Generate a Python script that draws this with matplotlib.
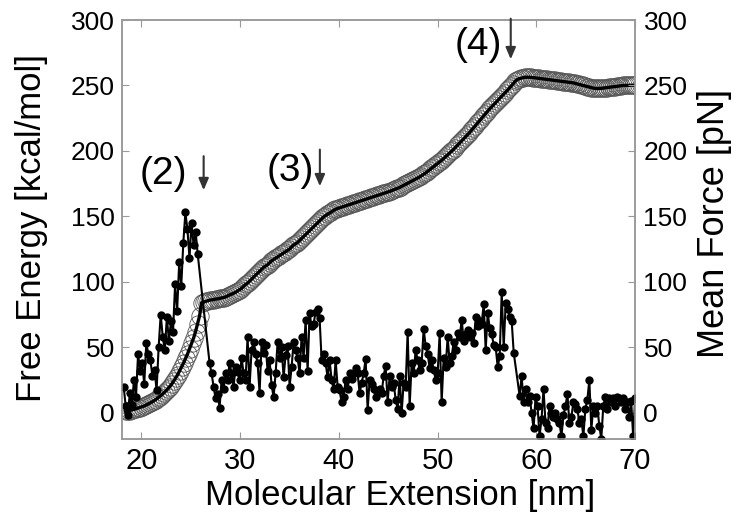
import numpy as np
import matplotlib
matplotlib.use('Agg')
import matplotlib.pyplot as plt

plt.rcParams['font.family'] = ['Liberation Sans', 'DejaVu Sans']

# ---------------- data ----------------
x_ticks = [20, 30, 40, 50, 60, 70]
y_ticks = [0, 50, 100, 150, 200, 250, 300]

# Free energy [kcal/mol] sampled on a uniform extension grid
fe_x = np.linspace(18.4, 70.0, 256)
free_energy = [
    1, 1.3, 1.7, 2.1, 2.5, 3.0, 3.5, 4.0, 4.5, 5.0,
    5.7, 6.5, 7.3, 8.1, 9.0, 10, 11.2, 12.4, 13.6, 15,
    16.5, 18, 19.8, 21.8, 24, 26.5, 29, 32, 35, 38,
    41.5, 45, 49, 53, 57, 62, 68, 74, 84, 84.5,
    85, 85.5, 86, 86.2, 86.5, 86.8, 87, 87.3, 87.7, 88,
    88.5, 89.2, 90, 90.6, 91.3, 92, 93, 94, 95, 96.5,
    98, 99, 100.5, 102, 103.5, 105, 106.5, 108, 109.5, 111,
    112, 113, 114.5, 116, 117, 118, 119, 120, 121, 122,
    123, 124, 125, 126.5, 128, 129, 130, 131.5, 133, 134.5,
    136, 137.5, 139, 140.5, 142, 143.5, 145, 146.5, 148, 149.5,
    150.5, 151.5, 152.5, 153.5, 154.5, 155.3, 156, 156.5, 157, 157.5,
    158, 158.5, 159, 159.5, 160, 160.5, 161, 161.5, 162, 162.5,
    163, 163.5, 164, 164.5, 165, 165.5, 166, 166.5, 167, 167.5,
    168, 168.5, 169, 169.6, 170.2, 170.8, 171.4, 172, 172.8, 173.6,
    174.4, 175.2, 176, 176.8, 177.6, 178.4, 179.2, 180, 181, 182,
    183, 184.2, 185.4, 186.6, 187.8, 189, 190.2, 191.4, 192.6, 194,
    195.4, 196.8, 198.2, 199.6, 201, 202.6, 204.2, 205.8, 207.4, 209,
    210.6, 212.2, 213.8, 215.6, 217.4, 219.2, 221, 222.8, 224.6, 226.4,
    228.2, 230, 231.8, 233.4, 235, 236.6, 238.2, 239.8, 241.4, 243,
    244.6, 246.2, 247.8, 249.6, 251.4, 253.2, 254.5, 255.2, 255.6, 256,
    256.2, 256.3, 256.3, 256.2, 256, 255.8, 255.6, 255.4, 255.2, 255,
    254.8, 254.6, 254.4, 254.2, 254, 253.8, 253.6, 253.4, 253.2, 253,
    252.8, 252.6, 252.4, 252.2, 252, 251.6, 251.2, 250.8, 250.4, 250,
    249.6, 249.2, 248.8, 248.4, 248, 247.8, 247.7, 247.7, 247.8, 248,
    248.2, 248.4, 248.6, 248.8, 249, 249.2, 249.4, 249.6, 249.8, 250,
    250, 250.1, 250.1, 250.2, 250.2, 250.2,
]

# Mean force [pN], three sampled stretches
force_x_a = np.linspace(18.2, 25.7, 37)
force_a = [
    20, 5, -2, 15, 6, 25, 12, 45, 32, 38,
    22, 53, 45, 40, 28, 33, 17, 50, 75, 58,
    48, 73, 55, 70, 62, 98, 78, 115, 97, 130,
    153, 140, 118, 145, 128, 138, 121,
]
force_x_b = np.linspace(26.9, 57.7, 153)
force_b = [
    38, 30, 20, 11, 14, 4, 25, 18, 30, 25,
    38, 30, 20, 35, 31, 25, 42, 30, 25, 58,
    20, 48, 54, 45, 38, 15, 54, 46, 52, 32,
    40, 21, 12, 30, 54, 42, 50, 27, 44, 51,
    20, 35, 54, 48, 42, 30, 58, 42, 71, 32,
    76, 66, 68, 77, 79, 72, 40, 45, 38, 27,
    40, 25, 18, 40, 20, 17, 8, 12, 25, 18,
    30, 26, 30, 34, 30, 15, 23, 30, 41, 2,
    25, 22, 18, 12, 15, 18, 15, 28, 36, 8,
    28, 20, 23, 10, 3, 28, 0, 23, 20, 62,
    5, 38, 30, 48, 40, 33, 38, 64, 51, 45,
    34, 40, 33, 25, 30, 61, 8, 42, 35, 58,
    38, 43, 54, 48, 61, 58, 71, 55, 60, 63,
    58, 61, 53, 73, 66, 70, 68, 83, 48, 76,
    65, 60, 52, 50, 35, 43, 92, 50, 84, 79,
    73, 70, 46,
]
force_x_c = np.linspace(58.3, 70.0, 59)
force_c = [
    13, 28, 8, 18, 8, 13, 0, -12, 12, 5,
    -18, -5, 18, -8, -12, 5, 0, -3, 0, -5,
    -8, -18, -2, 5, 14, -8, -3, 8, 7, 3,
    -8, -5, -18, 3, 10, 25, -13, 5, 0, 5,
    -10, -20, 5, 12, 3, 11, 8, 11, 5, 12,
    11, 8, 11, 3, 8, -3, 9, -18, 11,
]

labels = ['(2)', '(3)', '(4)']
label_pos = [(22.2, 182), (35.05, 185), (54.1, 281)]
arrow_x = [26.3, 38.07, 57.4]
arrow_from = [196, 201, 301]
arrow_to = [170, 173, 270]

# ---------------- plot ----------------
fig = plt.figure(figsize=(7.42, 5.17), dpi=100)
ax = fig.add_axes([0.164, 0.151, 0.692, 0.8103])

ax.plot(fe_x, free_energy, ls='none', marker='o', ms=12.5, mfc='none',
        mec='#555555', mew=0.6, zorder=2)
ax.plot(fe_x, free_energy, color='black', lw=2.4, zorder=3)

ax2 = ax.twinx()
force_x = np.concatenate([force_x_a, force_x_b, force_x_c])
force = force_a + force_b + force_c
ax2.plot(force_x, force, color='black', lw=1.5, marker='o', ms=5,
         mfc='black', mec='black')

for a in (ax, ax2):
    a.set_xlim(18, 70)
    a.set_ylim(-20, 300)
    a.set_yticks(y_ticks)
    for s in a.spines.values():
        s.set_color('#999999')
        s.set_linewidth(1.1)
ax.set_xticks(x_ticks)
ax.tick_params(axis='both', direction='in', length=5, color='#999999',
               top=True)
ax.tick_params(axis='y', labelsize=19, pad=5)
ax.tick_params(axis='x', labelsize=21, pad=6)
ax2.tick_params(axis='y', direction='in', length=5, color='#999999',
                labelsize=19, pad=6)

fig.text(400 / 742, 1 - 496 / 517, 'Molecular Extension [nm]', fontsize=25,
         ha='center', va='center')
fig.text(32 / 742, 1 - 228 / 517, 'Free Energy [kcal/mol]', fontsize=25,
         rotation=90, ha='center', va='center')
fig.text(714 / 742, 1 - 223 / 517, 'Mean Force [pN]', fontsize=26,
         rotation=90, ha='center', va='center')

for lab, (tx, ty), axx, y0, y1 in zip(labels, label_pos, arrow_x, arrow_from, arrow_to):
    ax2.text(tx, ty, lab, fontsize=28, ha='center', va='center', clip_on=False)
    ax2.annotate('', xy=(axx, y1), xytext=(axx, y0), annotation_clip=False,
                 arrowprops=dict(arrowstyle='-|>,head_length=0.7,head_width=0.3',
                                 color='#333333', lw=1.5, shrinkA=0, shrinkB=0))

fig.savefig('out.png', dpi=100)
